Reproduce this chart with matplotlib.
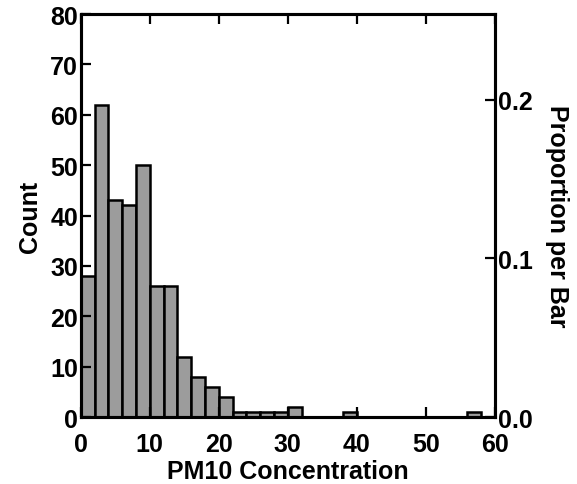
import matplotlib
matplotlib.use("Agg")
import matplotlib.pyplot as plt
import numpy as np

plt.rcParams['font.family'] = ['Liberation Sans', 'DejaVu Sans']
plt.rcParams['font.weight'] = 'bold'

# Histogram data: bins of width 2 from 0 to 60
bin_edges = np.arange(0, 62, 2)
counts = [28, 62, 43, 42, 50, 26, 26, 12, 8, 6,
          4, 1, 1, 1, 1, 2, 0, 0, 0, 1,
          0, 0, 0, 0, 0, 0, 0, 0, 1, 0]
x_ticks = [0, 10, 20, 30, 40, 50, 60]
y_ticks = [0, 10, 20, 30, 40, 50, 60, 70, 80]
prop_ticks = [0.0, 0.1, 0.2]

N = sum(counts)
FS = 18

fig = plt.figure(figsize=(5.77, 4.85), dpi=100)
ax = fig.add_axes([0.140, 0.138, 0.7175, 0.831])

ax.bar(bin_edges[:-1], counts, width=2, align='edge',
       color='#9c9c9c', edgecolor='black', linewidth=1.8)

ax.set_xlim(0, 60)
ax.set_ylim(0, 80)
ax.set_xticks(x_ticks)
ax.set_yticks(y_ticks)
ax.tick_params(axis='both', direction='in', length=7, width=1.6,
               labelsize=FS, top=True, right=False)
ax.tick_params(axis='x', pad=11)
ax.tick_params(axis='y', pad=2)
for lab in ax.get_xticklabels() + ax.get_yticklabels():
    lab.set_fontweight('bold')
for s in ax.spines.values():
    s.set_linewidth(2.2)

ax.set_xlabel('PM10 Concentration', fontsize=FS, fontweight='bold', labelpad=2)
ax.set_ylabel('Count', fontsize=FS, fontweight='bold', labelpad=6)

ax2 = ax.twinx()
ax2.set_ylim(0, 80 / N)
ax2.set_yticks(prop_ticks)
ax2.set_yticklabels(['%.1f' % v for v in prop_ticks])
ax2.tick_params(axis='y', direction='in', length=7, width=1.6, labelsize=FS, pad=2)
for lab in ax2.get_yticklabels():
    lab.set_fontweight('bold')
for s in ax2.spines.values():
    s.set_linewidth(2.2)
ax2.set_ylabel('Proportion per Bar', fontsize=FS, fontweight='bold',
               rotation=-90, labelpad=26)

fig.savefig('out.png', dpi=100)
